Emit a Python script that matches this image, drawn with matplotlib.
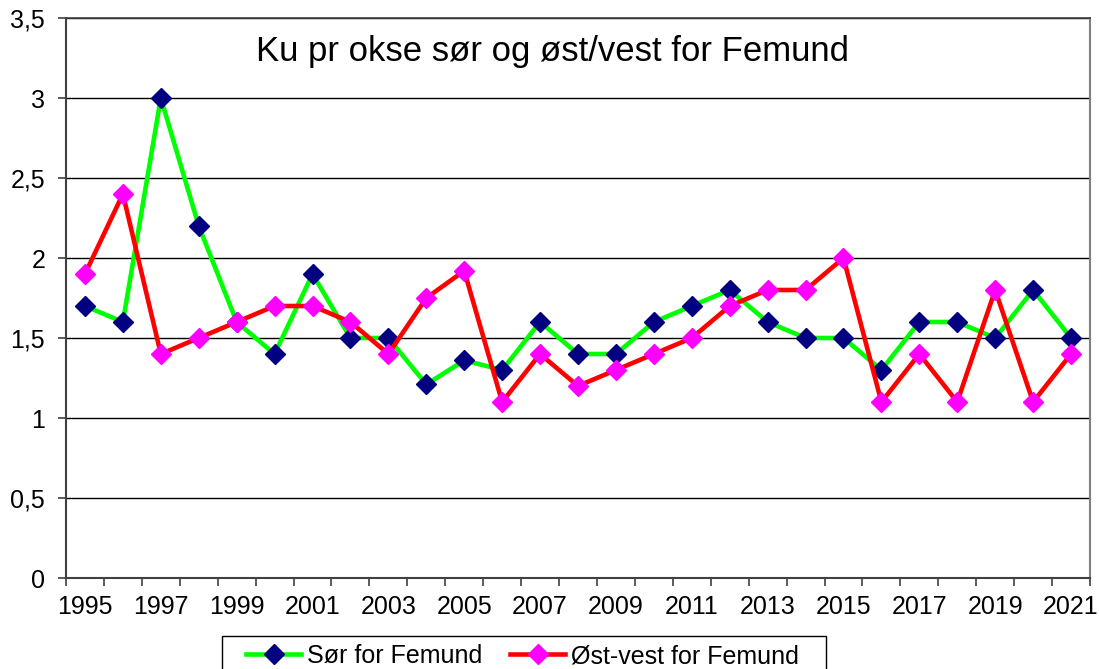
import matplotlib
matplotlib.use("Agg")
import matplotlib.pyplot as plt
from matplotlib.lines import Line2D
from matplotlib.patches import Rectangle

years = list(range(1995, 2022))
sor = [1.7, 1.6, 3.0, 2.2, 1.6, 1.4, 1.9, 1.5, 1.5, 1.21, 1.36, 1.3, 1.6, 1.4,
       1.4, 1.6, 1.7, 1.8, 1.6, 1.5, 1.5, 1.3, 1.6, 1.6, 1.5, 1.8, 1.5]
ost_vest = [1.9, 2.4, 1.4, 1.5, 1.6, 1.7, 1.7, 1.6, 1.4, 1.75, 1.92, 1.1, 1.4, 1.2,
            1.3, 1.4, 1.5, 1.7, 1.8, 1.8, 2.0, 1.1, 1.4, 1.1, 1.8, 1.1, 1.4]
y_ticks = [0, 0.5, 1, 1.5, 2, 2.5, 3, 3.5]
y_labels = ["0", "0,5", "1", "1,5", "2", "2,5", "3", "3,5"]
title = "Ku pr okse sør og øst/vest for Femund"
labels = ["Sør for Femund", "Øst-vest for Femund"]

plt.rcParams['font.family'] = ['Liberation Sans', 'DejaVu Sans']

fig = plt.figure(figsize=(10.99, 6.69), dpi=100)
ax = fig.add_axes([66/1099, 1-578/669, 1024/1099, 560/669])

x = list(range(len(years)))
ax.plot(x, sor, color='#00FF00', lw=3.3, marker='D', ms=10.5,
        mfc='#000080', mec='#000080', zorder=3)
ax.plot(x, ost_vest, color='#FF0000', lw=3.3, marker='D', ms=10.5,
        mfc='#FF00FF', mec='#FF00FF', zorder=4)

ax.set_xlim(-0.5, len(years) - 0.5)
ax.set_ylim(0, 3.5)
ax.set_yticks(y_ticks)
ax.set_yticklabels(y_labels, fontsize=18)
ax.yaxis.grid(True, color='black', lw=1)
ax.set_axisbelow(True)

ax.set_xticks([i - 0.5 for i in range(len(years) + 1)])
ax.set_xticklabels([])
ax.set_xticks(x, minor=True)
ax.set_xticklabels([str(y) if (y - 1995) % 2 == 0 else "" for y in years],
                   minor=True, fontsize=18)
ax.tick_params(axis='x', which='major', length=6, width=1.2, color='#404040', direction='out')
ax.tick_params(axis='x', which='minor', length=0, pad=12)
ax.tick_params(axis='y', length=6, width=1.2, color='#404040', pad=9)

for s in ['left', 'bottom']:
    ax.spines[s].set_color('#404040')
    ax.spines[s].set_linewidth(1.5)
ax.spines['right'].set_color('#808080')
ax.spines['right'].set_linewidth(1.5)
ax.spines['top'].set_color('#404040')
ax.spines['top'].set_linewidth(1.2)

fig.text(553/1099, 1-51/669, title, fontsize=25, ha='center', va='center')

# legend frame (extends beyond bottom edge as in the reference)
fig.patches.append(Rectangle((222/1099, -40/669), 604/1099, (669-636+40)/669,
                             transform=fig.transFigure, facecolor='white',
                             edgecolor='black', lw=1.0, zorder=0))

handles = [Line2D([], [], color='#00FF00', lw=3.3, marker='D', ms=10.5, mfc='#000080', mec='#000080'),
           Line2D([], [], color='#FF0000', lw=3.3, marker='D', ms=10.5, mfc='#FF00FF', mec='#FF00FF')]
leg = fig.legend(handles, labels, loc='upper left', bbox_to_anchor=(246/1099, 1-644/669),
                 ncol=2, fontsize=18, frameon=False,
                 handlelength=2.2, columnspacing=1.1, handletextpad=0.25,
                 borderpad=0, borderaxespad=0)

fig.savefig("out.png", dpi=100)
